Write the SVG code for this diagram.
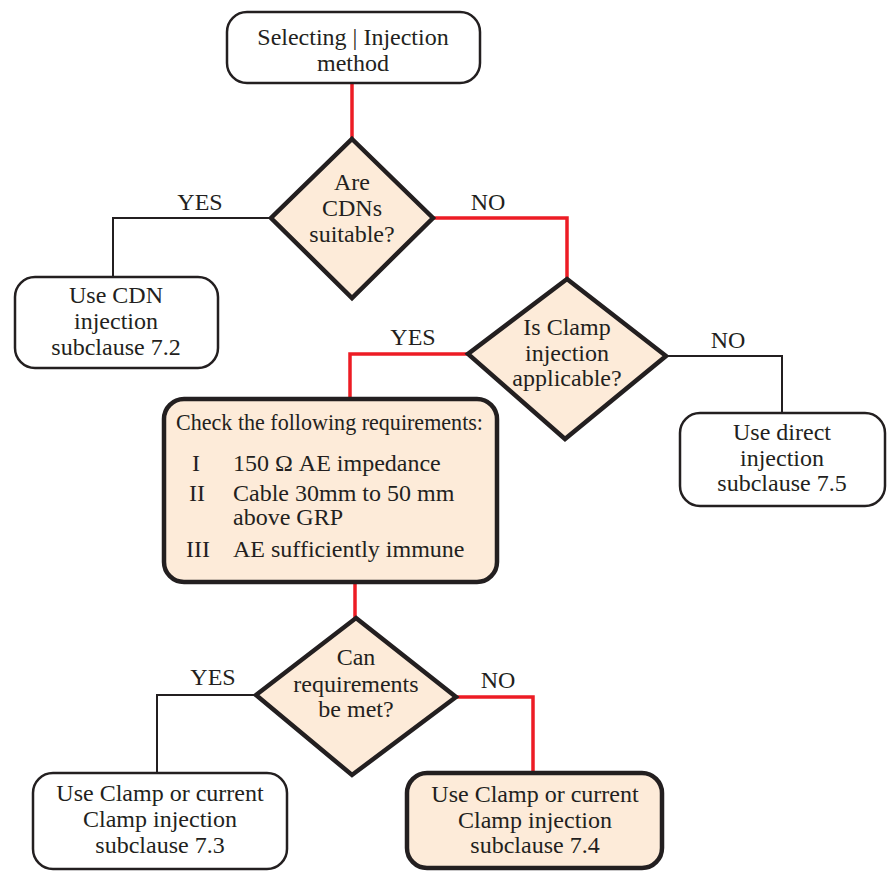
<svg xmlns="http://www.w3.org/2000/svg" width="890" height="876" viewBox="0 0 890 876">
<style>
text{font-family:'Liberation Serif','DejaVu Serif',serif;font-size:24px;fill:#231f20;text-anchor:middle}
.plain{fill:#fff;stroke:#231f20;stroke-width:2.5}
.hl{fill:#fdebd9;stroke:#231f20;stroke-width:4.5}
.red{fill:none;stroke:#ed1c24;stroke-width:3.5}
.blk{fill:none;stroke:#231f20;stroke-width:2}
.lt{text-anchor:start}
</style>
<rect width="890" height="876" fill="#fff"/>
<g id="connectors">
<polyline class="red" points="352,83 352,139"/>
<polyline class="red" points="433,218 567,218 567,279"/>
<polyline class="blk" points="271,218 113,218 113,277"/>
<polyline class="red" points="468,354 350,354 350,399"/>
<polyline class="blk" points="666,356 782,356 782,413"/>
<polyline class="red" points="355,583 355,618"/>
<polyline class="red" points="456,697 533,697 533,773"/>
<polyline class="blk" points="256,695 157,695 157,773"/>
<text x="200" y="210">YES</text>
<text x="488" y="210">NO</text>
<text x="413" y="345">YES</text>
<text x="728" y="348">NO</text>
<text x="213" y="685">YES</text>
<text x="498" y="688">NO</text>
</g>
<g id="start">
<rect class="plain" x="227" y="12" width="253" height="71" rx="20"/>
<text x="353" y="45">Selecting | Injection</text>
<text x="353" y="71">method</text>
</g>
<g id="d1">
<polygon class="hl" points="352,139 433,218 352,298 271,218"/>
<text x="352" y="190">Are</text>
<text x="352" y="216">CDNs</text>
<text x="352" y="242">suitable?</text>
</g>
<g id="cdn">
<rect class="plain" x="15" y="277" width="203" height="91" rx="20"/>
<text x="116" y="303">Use CDN</text>
<text x="116" y="329">injection</text>
<text x="116" y="355">subclause 7.2</text>
</g>
<g id="d2">
<polygon class="hl" points="567,279 666,356 565,439 468,354"/>
<text x="567" y="335">Is Clamp</text>
<text x="567" y="361">injection</text>
<text x="567" y="386">applicable?</text>
</g>
<g id="direct">
<rect class="plain" x="680" y="413" width="205" height="93" rx="20"/>
<text x="782" y="440">Use direct</text>
<text x="782" y="466">injection</text>
<text x="782" y="491">subclause 7.5</text>
</g>
<g id="check">
<rect class="hl" x="164" y="399" width="333" height="183" rx="20"/>
<text class="lt" x="176" y="430" textLength="307" lengthAdjust="spacingAndGlyphs">Check the following requirements:</text>
<text class="lt" x="192" y="471">I</text>
<text class="lt" x="233" y="471">150 Ω AE impedance</text>
<text class="lt" x="189" y="501">II</text>
<text class="lt" x="233" y="501">Cable 30mm to 50 mm</text>
<text class="lt" x="233" y="525">above GRP</text>
<text class="lt" x="186" y="557">III</text>
<text class="lt" x="233" y="557">AE sufficiently immune</text>
</g>
<g id="d3">
<polygon class="hl" points="356,618 456,697 352,775 256,695"/>
<text x="356" y="665">Can</text>
<text x="356" y="692">requirements</text>
<text x="356" y="717">be met?</text>
</g>
<g id="c73">
<rect class="plain" x="33" y="773" width="254" height="96" rx="20"/>
<text x="160" y="801">Use Clamp or current</text>
<text x="160" y="827">Clamp injection</text>
<text x="160" y="853">subclause 7.3</text>
</g>
<g id="c74">
<rect class="hl" x="407" y="773" width="255" height="95" rx="20"/>
<text x="535" y="802">Use Clamp or current</text>
<text x="535" y="828">Clamp injection</text>
<text x="535" y="853">subclause 7.4</text>
</g>
</svg>
